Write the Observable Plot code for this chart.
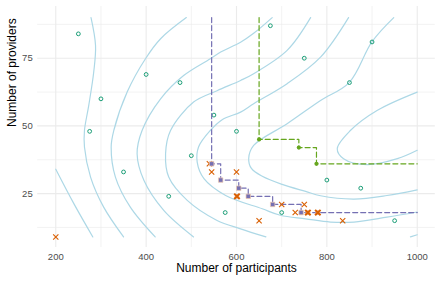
<!DOCTYPE html>
<html><head><meta charset="utf-8">
<script src="https://cdn.jsdelivr.net/npm/d3@7"></script>
<script src="https://cdn.jsdelivr.net/npm/@observablehq/plot@0.6"></script>
<style>body{margin:0;background:#fff;} svg{font-family:"Liberation Sans",Arial,sans-serif;}</style>
</head><body><div id="chart"></div>
<script>
// Axis ticks
const xTicks = [200, 400, 600, 800, 1000];
const xMinor = [300, 500, 700, 900];
const yTicks = [25, 50, 75];
const yMinor = [12.5, 37.5, 62.5, 87.5];

// Contour lines (participants, providers)
const contour1 = [[200,34],[240,21.3],[282,9]];
const contour2 = [[278,90],[288,79.7],[284,69.9],[273,57.6],[263.5,48.3],[263.5,42.2],[277,31.1],[306,20],[350,9]];
const contour3 = [[489,90],[432,82.2],[398.5,74.8],[358,62.5],[328.4,48.3],[322.6,42.2],[332,31.1],[365,20],[420,9]];
const contour4 = [[679,90],[638,84.2],[609,80.9],[565,77.3],[542,74.8],[483,68.6],[432,60],[391,48.3],[380,39.7],[395,29.9],[439,18.8],[505,9]];
const contour5 = [[764,90],[712,77.9],[638,69.3],[609,66.8],[557,63],[505,58.8],[454,48.3],[443,39.7],[450,31.1],[491,22.5],[557,15.1],[609,12],[665,9]];
const contour6 = [[848,90],[786,75.4],[712,65.6],[638,58.2],[609,55.1],[569,52.4],[542,48.3],[516,42.2],[513,36.6],[528,30.5],[576,24.3],[657,19.4],[697,17],[753,15.7],[808,14.5],[860,14.5],[933,16.3],[1000,18.2]];
const contour7 = [[948,90],[900,81.1],[850,66.1],[786,59.4],[712,50.8],[638,42.8],[627,38],[633,34.3],[657,31.4],[701,28.4],[753,25.8],[786,24.2],[860,23],[933,24.3],[1000,26.4]];
const contour8 = [[1000,62.5],[911,55.7],[852,48.3],[823,41.6],[837,37.9],[889,35.7],[956,37.9],[1000,41]];
const contour9 = [[985,9],[1000,9.8]];

// Open circles (sampled designs)
const openX = [250,300,275,400,475,550,675,750,900,850,600,350,450,500,575,700,800,875,950];
const openY = [84,60,48,69,66,54,87,75,81,66,48,33,24,39,18,18,30,27,15];

// Orange crosses
const crossX = [200,540,545,600,650,700,730,750,835];
const crossY = [9,36,33,33,15,21,18,21,15];
const boldCrossX = [601,758,780];
const boldCrossY = [24,18,18];

// Purple path (squares) and green path (filled dots)
const purplePathX = [545,545,565,605,626,680,743,1000];
const purplePathY = [90,36,30,27,24,21,18,18];
const purpleSqX = [545,565,605,626,680,743];
const purpleSqY = [36,30,27,24,21,18];
const greenPathX = [650,650,738,777,1000];
const greenPathY = [90,45,42,36,36];
const greenDotX = [650,738,777];
const greenDotY = [45,42,36];

const contours = [contour1,contour2,contour3,contour4,contour5,contour6,contour7,contour8,contour9];
const contourRows = contours.flatMap((c, i) => c.map(([x, y]) => ({id: i, x, y})));
const zip = (xs, ys) => xs.map((x, i) => ({x, y: ys[i]}));

const chart = Plot.plot({
  width: 441, height: 284,
  marginLeft: 37.2, marginRight: 6.2, marginTop: 6, marginBottom: 37,
  x: {domain: [160, 1040]},
  y: {domain: [5.1, 94.1]},
  style: {fontFamily: "Liberation Sans, Arial, sans-serif", background: "white"},
  marks: [
    Plot.gridX(xMinor, {stroke: "#EBEBEB", strokeOpacity: 1, strokeWidth: 0.6}),
    Plot.gridY(yMinor, {stroke: "#EBEBEB", strokeOpacity: 1, strokeWidth: 0.6}),
    Plot.gridX(xTicks, {stroke: "#EBEBEB", strokeOpacity: 1, strokeWidth: 1.1}),
    Plot.gridY(yTicks, {stroke: "#EBEBEB", strokeOpacity: 1, strokeWidth: 1.1}),
    Plot.axisX(xTicks, {tickSize: 0, tickPadding: 5.5, fontSize: 9.5, color: "#4D4D4D", label: null, tickFormat: d => String(d)}),
    Plot.axisY(yTicks, {tickSize: 0, tickPadding: 5, fontSize: 9.5, color: "#4D4D4D", label: null, tickFormat: d => String(d)}),
    Plot.line(contourRows, {x: "x", y: "y", z: "id", stroke: "#ADD8E6", strokeWidth: 1.2, curve: "catmull-rom"}),
    Plot.dot(zip(openX, openY), {x: "x", y: "y", symbol: "circle", stroke: "#1B9E77", fill: "none", r: 1.9, strokeWidth: 1}),
    Plot.line(zip(greenPathX, greenPathY), {x: "x", y: "y", curve: "step-after", stroke: "#66A61E", strokeDasharray: "5,3", strokeWidth: 1.2}),
    Plot.line(zip(purplePathX, purplePathY), {x: "x", y: "y", curve: "step-after", stroke: "#7570B3", strokeDasharray: "5,3", strokeWidth: 1.2}),
    Plot.dot(zip(crossX, crossY), {x: "x", y: "y", symbol: "times", stroke: "#D95F02", r: 2.5, strokeWidth: 1.1}),
    Plot.dot(zip(boldCrossX, boldCrossY), {x: "x", y: "y", symbol: "square", fill: "#F0B890", r: 2.6}),
    Plot.dot(zip(boldCrossX, boldCrossY), {x: "x", y: "y", symbol: "times", stroke: "#D95F02", r: 2.6, strokeWidth: 2}),
    Plot.dot(zip(purpleSqX, purpleSqY), {x: "x", y: "y", symbol: "square", fill: "#7570B3", stroke: "#EFC9AD", strokeWidth: 0.7, r: 2.5}),
    Plot.dot(zip(greenDotX, greenDotY), {x: "x", y: "y", symbol: "circle", fill: "#66A61E", r: 2.1}),
    Plot.text(["Number of participants"], {frameAnchor: "bottom", dy: 24, fontSize: 12, fill: "black"}),
    Plot.text(["Number of providers"], {frameAnchor: "left", dx: -26, rotate: -90, fontSize: 12, fill: "black"})
  ]
});
document.getElementById("chart").appendChild(chart);
</script>
</body></html>
